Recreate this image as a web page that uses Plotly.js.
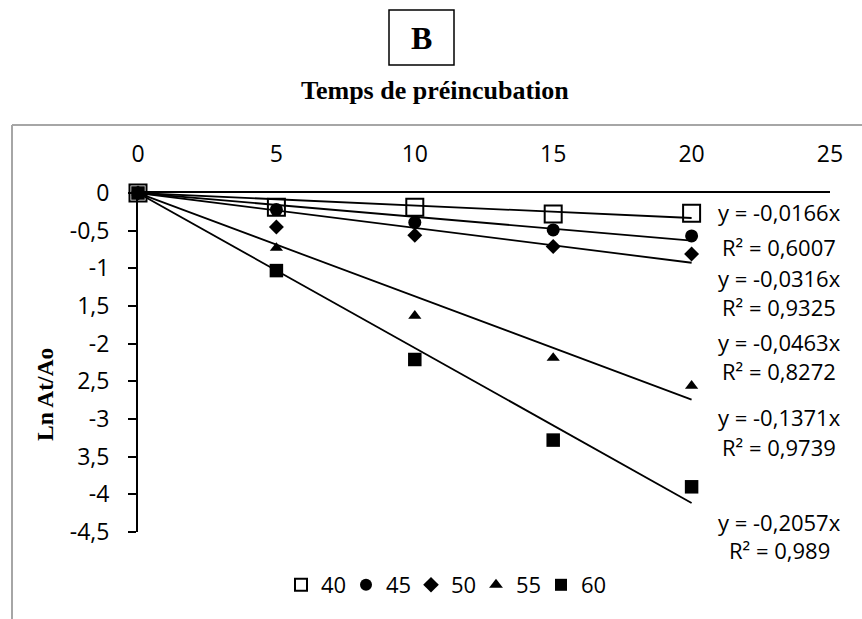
<!DOCTYPE html>
<html><head><meta charset="utf-8">
<script src="https://cdn.plot.ly/plotly-3.0.1.min.js"></script>
<style>html,body{margin:0;padding:0;background:#fff}</style>
</head><body><div id="chart" style="width:862px;height:619px"></div>
<script>
// ---- data ----
const times = [0, 5, 10, 15, 20];
const seriesNames = ['40', '45', '50', '55', '60'];
const ln40 = [0, -0.19, -0.19, -0.28, -0.27];
const ln45 = [0, -0.22, -0.39, -0.49, -0.57];
const ln50 = [0, -0.45, -0.56, -0.71, -0.81];
const ln55 = [0, -0.73, -1.63, -2.19, -2.56];
const ln60 = [0, -1.03, -2.21, -3.28, -3.90];
const slopes = [-0.0166, -0.0316, -0.0463, -0.1371, -0.2057];
const slopeText = ['-0,0166', '-0,0316', '-0,0463', '-0,1371', '-0,2057'];
const r2Text = ['0,6007', '0,9325', '0,8272', '0,9739', '0,989'];
const trendX = [0, 20];
const xTickVals = [0, 5, 10, 15, 20, 25];
const xTickText = ['0', '5', '10', '15', '20', '25'];
const yTickVals = [0, -0.5, -1, -1.5, -2, -2.5, -3, -3.5, -4, -4.5];
const yTickText = ['0', '-0,5', '-1', '1,5', '-2', '2,5', '-3', '3,5', '-4', '-4,5'];

// ---- styling ----
const allY = [ln40, ln45, ln50, ln55, ln60];
const symbols = ['square-open', 'circle', 'diamond', 'triangle-up', 'square'];
const sizes = [17, 13, 11.5, 11.5, 13.5];
const L = 138, R = 830, T = 193, B = 532;
const px = x => (x - L) / (R - L);
const py = y => (B - y) / (B - T);
const sans = 'Open Sans, sans-serif';
const serif = 'Liberation Serif, Times New Roman, serif';

const traces = [];
slopes.forEach((s, i) => {
  traces.push({
    x: trendX, y: trendX.map(v => s * v), mode: 'lines', type: 'scatter',
    line: {color: '#000', width: 1.8}, showlegend: false, hoverinfo: 'skip', cliponaxis: false
  });
});
allY.forEach((ys, i) => {
  traces.push({
    x: times, y: ys, name: seriesNames[i], mode: 'markers', type: 'scatter', cliponaxis: false,
    marker: {symbol: symbols[i], size: sizes[i], color: '#000',
             line: {color: '#000', width: i === 0 ? 2 : 0}}
  });
});

const eqY = [211.7, 278.3, 342, 417.3, 521.7];
const r2Y = [246.7, 306.7, 371, 446.7, 550];
const annotations = [];
slopes.forEach((s, i) => {
  annotations.push({xref: 'paper', yref: 'paper', x: px(779), y: py(eqY[i]), xanchor: 'center', yanchor: 'middle',
    text: 'y = ' + slopeText[i] + 'x', showarrow: false, font: {family: sans, size: 22, color: '#000'}});
  annotations.push({xref: 'paper', yref: 'paper', x: px(779), y: py(r2Y[i]), xanchor: 'center', yanchor: 'middle',
    text: 'R² = ' + r2Text[i], showarrow: false, font: {family: sans, size: 22, color: '#000'}});
});
annotations.push({xref: 'paper', yref: 'paper', x: px(421.5), y: py(38), xanchor: 'center', yanchor: 'middle',
  text: 'B', showarrow: false, font: {family: serif, size: 32, color: '#000', weight: 700}});
annotations.push({xref: 'paper', yref: 'paper', x: px(435), y: py(91), xanchor: 'center', yanchor: 'middle',
  text: 'Temps de préincubation', showarrow: false, font: {family: serif, size: 26, color: '#000', weight: 700}});
annotations.push({xref: 'paper', yref: 'paper', x: px(45), y: py(395), xanchor: 'center', yanchor: 'middle',
  text: 'Ln At/Ao', textangle: -90, showarrow: false, font: {family: serif, size: 23.5, color: '#000', weight: 700}});

const shapes = [
  {type: 'rect', xref: 'paper', yref: 'paper', x0: px(389), x1: px(454), y0: py(65), y1: py(10), line: {color: '#000', width: 1.5}},
  {type: 'line', xref: 'paper', yref: 'paper', x0: px(12), x1: px(12), y0: py(125), y1: py(619), line: {color: '#a6a6a6', width: 2}},
  {type: 'line', xref: 'paper', yref: 'paper', x0: px(12), x1: px(862), y0: py(125), y1: py(125), line: {color: '#a6a6a6', width: 2}}
];

const layout = {
  width: 862, height: 619,
  margin: {l: L, r: 862 - R, t: T, b: 619 - B, pad: 0},
  paper_bgcolor: '#fff', plot_bgcolor: '#fff',
  showlegend: true,
  xaxis: {range: [0, 25], side: 'top', tickvals: xTickVals, ticktext: xTickText, ticks: '',
          showgrid: false, zeroline: false, showline: true, linecolor: '#000', linewidth: 2,
          tickfont: {family: sans, size: 23, color: '#000'}, ticklabelstandoff: 20, fixedrange: true},
  yaxis: {range: [-4.5, 0], tickvals: yTickVals, ticktext: yTickText, ticks: 'outside', ticklen: 8,
          tickwidth: 2, tickcolor: '#000', showgrid: false, zeroline: false, showline: true,
          linecolor: '#000', linewidth: 2, tickfont: {family: sans, size: 23, color: '#000'},
          ticklabelstandoff: 14, fixedrange: true},
  legend: {orientation: 'h', x: px(281), xanchor: 'left', y: py(585), yanchor: 'middle',
           entrywidth: 20, entrywidthmode: 'pixels', itemwidth: 30, itemsizing: 'constant',
           font: {family: sans, size: 22, color: '#000'}, bgcolor: 'rgba(0,0,0,0)'},
  annotations: annotations,
  shapes: shapes
};

Plotly.newPlot('chart', traces, layout, {displayModeBar: false, staticPlot: true});
</script>
</body></html>
